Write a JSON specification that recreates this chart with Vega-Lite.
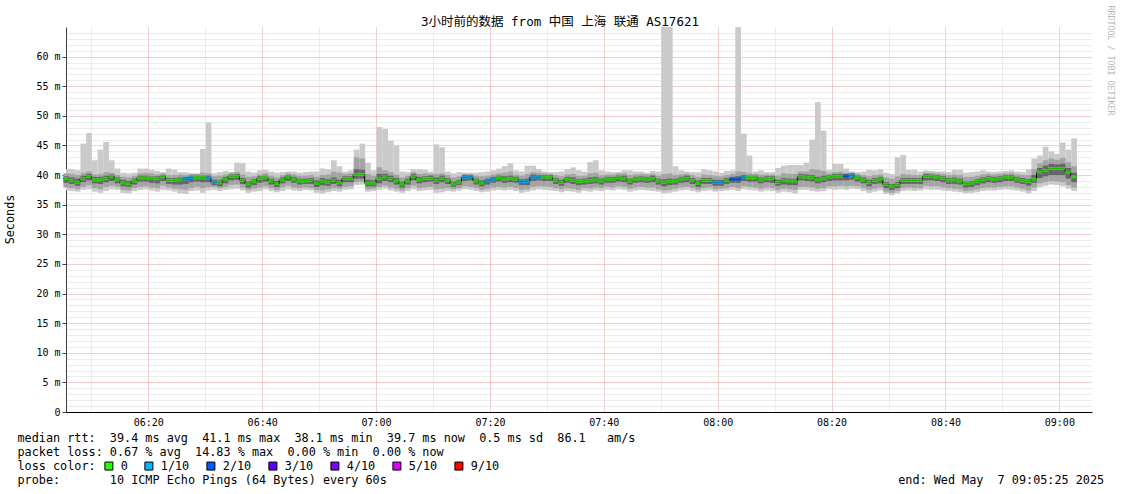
{
"$schema":"https://vega.github.io/schema/vega-lite/v6.json",
"width":1026,"height":385,
"autosize":{"type":"none"},
"padding":{"left":66,"top":27,"right":29,"bottom":82},
"background":"white",
"config":{"view":{"stroke":null}},
"title":{"text":"3小时前的数据 from 中国 上海 联通 AS17621","font":"DejaVu Sans Mono, Noto Sans CJK SC","fontSize":12.5,"fontWeight":"normal","color":"#000","anchor":"middle","dx":-19,"dy":26,"offset":3},
"data":{"values":[
{"t":"2025-05-07T06:05","m":39.4,"a":37.4,"b":41.0,"c":37.9,"d":40.3,"e":38.7,"f":39.8,"l":"0"},
{"t":"2025-05-07T06:06","m":39.1,"a":37.3,"b":41.0,"c":37.8,"d":40.2,"e":38.5,"f":39.6,"l":"0"},
{"t":"2025-05-07T06:07","m":38.8,"a":37.2,"b":40.8,"c":37.6,"d":40.0,"e":38.2,"f":39.4,"l":"0"},
{"t":"2025-05-07T06:08","m":39.4,"a":37.5,"b":45.3,"c":38.0,"d":40.4,"e":38.8,"f":39.9,"l":"0"},
{"t":"2025-05-07T06:09","m":39.8,"a":37.6,"b":47.1,"c":38.3,"d":40.6,"e":39.1,"f":40.2,"l":"0"},
{"t":"2025-05-07T06:10","m":39.2,"a":37.2,"b":42.5,"c":37.8,"d":40.1,"e":38.6,"f":39.7,"l":"0"},
{"t":"2025-05-07T06:11","m":39.2,"a":37.0,"b":44.3,"c":37.6,"d":40.2,"e":38.5,"f":39.7,"l":"0"},
{"t":"2025-05-07T06:12","m":39.4,"a":37.3,"b":45.6,"c":38.0,"d":40.5,"e":38.8,"f":39.9,"l":"0"},
{"t":"2025-05-07T06:13","m":39.8,"a":37.6,"b":42.5,"c":38.2,"d":40.4,"e":39.0,"f":40.1,"l":"0"},
{"t":"2025-05-07T06:14","m":39.2,"a":37.5,"b":41.1,"c":38.0,"d":40.0,"e":38.6,"f":39.6,"l":"0"},
{"t":"2025-05-07T06:15","m":38.7,"a":37.0,"b":40.4,"c":37.5,"d":39.7,"e":38.1,"f":39.2,"l":"0"},
{"t":"2025-05-07T06:16","m":38.5,"a":36.9,"b":40.3,"c":37.4,"d":39.6,"e":38.0,"f":39.0,"l":"0"},
{"t":"2025-05-07T06:17","m":39.0,"a":37.3,"b":40.4,"c":37.8,"d":39.9,"e":38.4,"f":39.4,"l":"0"},
{"t":"2025-05-07T06:18","m":39.5,"a":37.5,"b":41.1,"c":38.0,"d":40.3,"e":38.9,"f":39.9,"l":"0"},
{"t":"2025-05-07T06:19","m":39.5,"a":37.6,"b":41.1,"c":38.1,"d":40.4,"e":38.9,"f":39.9,"l":"0"},
{"t":"2025-05-07T06:20","m":39.5,"a":37.4,"b":40.9,"c":37.9,"d":40.3,"e":38.7,"f":39.8,"l":"0"},
{"t":"2025-05-07T06:21","m":39.4,"a":37.2,"b":40.7,"c":37.8,"d":40.1,"e":38.6,"f":39.8,"l":"0"},
{"t":"2025-05-07T06:22","m":39.7,"a":37.5,"b":40.5,"c":38.2,"d":40.3,"e":39.0,"f":40.0,"l":"0"},
{"t":"2025-05-07T06:23","m":39.1,"a":37.4,"b":41.1,"c":37.9,"d":40.0,"e":38.5,"f":39.5,"l":"0"},
{"t":"2025-05-07T06:24","m":39.1,"a":37.2,"b":40.9,"c":37.7,"d":40.0,"e":38.4,"f":39.5,"l":"0"},
{"t":"2025-05-07T06:25","m":39.2,"a":36.9,"b":40.5,"c":37.6,"d":40.1,"e":38.4,"f":39.6,"l":"0"},
{"t":"2025-05-07T06:26","m":39.3,"a":36.8,"b":40.5,"c":37.5,"d":40.0,"e":38.5,"f":39.7,"l":"1/10"},
{"t":"2025-05-07T06:27","m":39.6,"a":37.3,"b":40.3,"c":37.8,"d":40.2,"e":38.8,"f":39.9,"l":"1/10"},
{"t":"2025-05-07T06:28","m":39.55,"a":37.4,"b":40.3,"c":38.0,"d":40.2,"e":38.9,"f":39.9,"l":"0"},
{"t":"2025-05-07T06:29","m":39.55,"a":37.0,"b":44.4,"c":37.8,"d":40.4,"e":38.8,"f":39.9,"l":"0"},
{"t":"2025-05-07T06:30","m":39.5,"a":37.4,"b":48.9,"c":38.0,"d":40.3,"e":38.8,"f":39.9,"l":"1/10"},
{"t":"2025-05-07T06:31","m":38.8,"a":37.5,"b":40.3,"c":38.0,"d":39.8,"e":38.3,"f":39.2,"l":"1/10"},
{"t":"2025-05-07T06:32","m":38.7,"a":37.3,"b":40.5,"c":37.8,"d":39.9,"e":38.1,"f":39.1,"l":"0"},
{"t":"2025-05-07T06:33","m":39.3,"a":37.5,"b":40.7,"c":38.0,"d":40.1,"e":38.6,"f":39.7,"l":"0"},
{"t":"2025-05-07T06:34","m":39.8,"a":37.6,"b":40.5,"c":38.3,"d":40.4,"e":39.1,"f":40.1,"l":"0"},
{"t":"2025-05-07T06:35","m":39.8,"a":37.7,"b":42.1,"c":38.4,"d":40.5,"e":39.2,"f":40.2,"l":"0"},
{"t":"2025-05-07T06:36","m":39.1,"a":37.4,"b":42.0,"c":37.9,"d":40.1,"e":38.5,"f":39.5,"l":"0"},
{"t":"2025-05-07T06:37","m":38.5,"a":37.0,"b":40.6,"c":37.5,"d":39.7,"e":37.9,"f":38.9,"l":"0"},
{"t":"2025-05-07T06:38","m":38.9,"a":37.2,"b":40.4,"c":37.7,"d":39.8,"e":38.3,"f":39.3,"l":"0"},
{"t":"2025-05-07T06:39","m":39.4,"a":37.3,"b":40.8,"c":37.9,"d":40.1,"e":38.7,"f":39.8,"l":"0"},
{"t":"2025-05-07T06:40","m":39.55,"a":37.6,"b":40.9,"c":38.1,"d":40.3,"e":38.9,"f":39.9,"l":"0"},
{"t":"2025-05-07T06:41","m":39.0,"a":37.3,"b":40.6,"c":37.8,"d":39.9,"e":38.4,"f":39.4,"l":"0"},
{"t":"2025-05-07T06:42","m":38.55,"a":37.1,"b":40.4,"c":37.5,"d":39.6,"e":38.0,"f":39.0,"l":"0"},
{"t":"2025-05-07T06:43","m":39.2,"a":37.3,"b":40.5,"c":37.9,"d":40.0,"e":38.6,"f":39.6,"l":"0"},
{"t":"2025-05-07T06:44","m":39.7,"a":37.6,"b":40.6,"c":38.2,"d":40.3,"e":39.0,"f":40.0,"l":"0"},
{"t":"2025-05-07T06:45","m":39.3,"a":37.4,"b":40.6,"c":37.9,"d":40.1,"e":38.7,"f":39.7,"l":"0"},
{"t":"2025-05-07T06:46","m":39.0,"a":37.3,"b":40.4,"c":37.8,"d":39.9,"e":38.4,"f":39.4,"l":"0"},
{"t":"2025-05-07T06:47","m":39.0,"a":37.5,"b":40.5,"c":37.9,"d":39.9,"e":38.5,"f":39.4,"l":"0"},
{"t":"2025-05-07T06:48","m":39.1,"a":37.4,"b":40.6,"c":37.8,"d":40.0,"e":38.5,"f":39.5,"l":"0"},
{"t":"2025-05-07T06:49","m":38.65,"a":37.0,"b":40.6,"c":37.5,"d":39.7,"e":38.0,"f":39.1,"l":"0"},
{"t":"2025-05-07T06:50","m":39.0,"a":36.9,"b":41.1,"c":37.4,"d":40.0,"e":38.3,"f":39.5,"l":"0"},
{"t":"2025-05-07T06:51","m":38.8,"a":37.1,"b":41.0,"c":37.6,"d":40.1,"e":38.2,"f":39.3,"l":"0"},
{"t":"2025-05-07T06:52","m":39.1,"a":37.3,"b":42.5,"c":37.8,"d":40.6,"e":38.5,"f":39.6,"l":"0"},
{"t":"2025-05-07T06:53","m":38.7,"a":37.2,"b":41.5,"c":37.7,"d":40.4,"e":38.1,"f":39.2,"l":"0"},
{"t":"2025-05-07T06:54","m":39.4,"a":37.5,"b":40.6,"c":38.0,"d":40.2,"e":38.8,"f":39.8,"l":"0"},
{"t":"2025-05-07T06:55","m":39.4,"a":37.6,"b":40.8,"c":38.1,"d":40.3,"e":38.8,"f":39.8,"l":"0"},
{"t":"2025-05-07T06:56","m":40.1,"a":38.3,"b":44.3,"c":38.8,"d":43.0,"e":39.4,"f":41.0,"l":"0"},
{"t":"2025-05-07T06:57","m":40.1,"a":38.4,"b":45.3,"c":38.9,"d":42.8,"e":39.4,"f":40.9,"l":"0"},
{"t":"2025-05-07T06:58","m":38.65,"a":37.2,"b":42.1,"c":37.6,"d":40.2,"e":38.1,"f":39.2,"l":"0"},
{"t":"2025-05-07T06:59","m":38.65,"a":37.3,"b":40.8,"c":37.7,"d":39.9,"e":38.1,"f":39.1,"l":"0"},
{"t":"2025-05-07T07:00","m":39.4,"a":37.5,"b":48.1,"c":38.0,"d":41.3,"e":38.6,"f":40.2,"l":"0"},
{"t":"2025-05-07T07:01","m":39.7,"a":37.7,"b":47.8,"c":38.2,"d":40.8,"e":39.0,"f":40.2,"l":"0"},
{"t":"2025-05-07T07:02","m":39.4,"a":37.4,"b":45.8,"c":37.9,"d":40.5,"e":38.8,"f":39.9,"l":"0"},
{"t":"2025-05-07T07:03","m":39.0,"a":37.2,"b":45.0,"c":37.7,"d":40.1,"e":38.4,"f":39.5,"l":"0"},
{"t":"2025-05-07T07:04","m":38.5,"a":37.0,"b":40.6,"c":37.4,"d":39.6,"e":37.9,"f":38.9,"l":"0"},
{"t":"2025-05-07T07:05","m":39.0,"a":37.3,"b":40.5,"c":37.8,"d":39.9,"e":38.4,"f":39.4,"l":"0"},
{"t":"2025-05-07T07:06","m":39.8,"a":37.6,"b":41.0,"c":38.2,"d":40.5,"e":39.1,"f":40.2,"l":"0"},
{"t":"2025-05-07T07:07","m":39.2,"a":37.3,"b":41.0,"c":37.8,"d":40.2,"e":38.6,"f":39.7,"l":"0"},
{"t":"2025-05-07T07:08","m":39.44,"a":37.4,"b":40.9,"c":37.9,"d":40.3,"e":38.8,"f":39.8,"l":"0"},
{"t":"2025-05-07T07:09","m":39.44,"a":37.5,"b":40.6,"c":38.0,"d":40.2,"e":38.9,"f":39.9,"l":"0"},
{"t":"2025-05-07T07:10","m":39.1,"a":37.0,"b":45.2,"c":37.6,"d":40.2,"e":38.5,"f":39.6,"l":"0"},
{"t":"2025-05-07T07:11","m":39.44,"a":37.1,"b":44.7,"c":37.7,"d":40.3,"e":38.8,"f":39.9,"l":"0"},
{"t":"2025-05-07T07:12","m":39.1,"a":37.3,"b":40.6,"c":37.8,"d":40.0,"e":38.5,"f":39.5,"l":"0"},
{"t":"2025-05-07T07:13","m":38.5,"a":37.2,"b":40.3,"c":37.6,"d":39.6,"e":38.0,"f":38.9,"l":"0"},
{"t":"2025-05-07T07:14","m":38.8,"a":37.4,"b":40.5,"c":37.8,"d":39.8,"e":38.3,"f":39.2,"l":"0"},
{"t":"2025-05-07T07:15","m":39.6,"a":37.6,"b":40.4,"c":38.1,"d":40.2,"e":39.0,"f":40.0,"l":"1/10"},
{"t":"2025-05-07T07:16","m":39.7,"a":37.5,"b":40.4,"c":38.0,"d":40.2,"e":39.1,"f":40.0,"l":"1/10"},
{"t":"2025-05-07T07:17","m":39.0,"a":37.3,"b":40.4,"c":37.8,"d":39.9,"e":38.4,"f":39.4,"l":"0"},
{"t":"2025-05-07T07:18","m":38.65,"a":37.1,"b":40.5,"c":37.5,"d":39.8,"e":38.1,"f":39.1,"l":"0"},
{"t":"2025-05-07T07:19","m":39.0,"a":37.2,"b":40.6,"c":37.7,"d":39.9,"e":38.4,"f":39.4,"l":"1/10"},
{"t":"2025-05-07T07:20","m":39.3,"a":37.4,"b":40.8,"c":37.9,"d":40.1,"e":38.7,"f":39.7,"l":"1/10"},
{"t":"2025-05-07T07:21","m":39.55,"a":37.5,"b":41.1,"c":38.0,"d":40.3,"e":38.9,"f":39.9,"l":"0"},
{"t":"2025-05-07T07:22","m":39.3,"a":37.4,"b":41.5,"c":37.9,"d":40.4,"e":38.7,"f":39.8,"l":"0"},
{"t":"2025-05-07T07:23","m":39.44,"a":37.5,"b":42.0,"c":38.0,"d":40.6,"e":38.8,"f":39.9,"l":"0"},
{"t":"2025-05-07T07:24","m":39.3,"a":37.3,"b":40.8,"c":37.8,"d":40.1,"e":38.7,"f":39.7,"l":"0"},
{"t":"2025-05-07T07:25","m":38.9,"a":37.0,"b":40.6,"c":37.5,"d":39.9,"e":38.3,"f":39.3,"l":"1/10"},
{"t":"2025-05-07T07:26","m":38.9,"a":37.2,"b":41.6,"c":37.6,"d":40.2,"e":38.3,"f":39.4,"l":"1/10"},
{"t":"2025-05-07T07:27","m":39.66,"a":37.4,"b":41.6,"c":38.0,"d":40.5,"e":39.0,"f":40.1,"l":"1/10"},
{"t":"2025-05-07T07:28","m":39.66,"a":37.6,"b":41.0,"c":38.1,"d":40.4,"e":39.1,"f":40.0,"l":"1/10"},
{"t":"2025-05-07T07:29","m":39.66,"a":37.5,"b":40.6,"c":38.1,"d":40.3,"e":39.0,"f":40.0,"l":"0"},
{"t":"2025-05-07T07:30","m":39.66,"a":37.4,"b":40.5,"c":38.0,"d":40.2,"e":39.0,"f":40.0,"l":"0"},
{"t":"2025-05-07T07:31","m":39.1,"a":37.3,"b":40.5,"c":37.8,"d":40.0,"e":38.5,"f":39.5,"l":"0"},
{"t":"2025-05-07T07:32","m":38.76,"a":37.1,"b":40.6,"c":37.6,"d":39.8,"e":38.2,"f":39.2,"l":"0"},
{"t":"2025-05-07T07:33","m":39.3,"a":37.3,"b":41.0,"c":37.8,"d":40.1,"e":38.7,"f":39.7,"l":"0"},
{"t":"2025-05-07T07:34","m":39.1,"a":37.2,"b":41.3,"c":37.7,"d":40.2,"e":38.5,"f":39.6,"l":"0"},
{"t":"2025-05-07T07:35","m":38.9,"a":37.0,"b":40.8,"c":37.5,"d":39.9,"e":38.3,"f":39.3,"l":"0"},
{"t":"2025-05-07T07:36","m":39.0,"a":37.3,"b":40.6,"c":37.8,"d":39.9,"e":38.4,"f":39.4,"l":"0"},
{"t":"2025-05-07T07:37","m":39.1,"a":37.2,"b":42.2,"c":37.7,"d":40.3,"e":38.5,"f":39.6,"l":"0"},
{"t":"2025-05-07T07:38","m":39.2,"a":37.4,"b":42.5,"c":37.9,"d":40.4,"e":38.6,"f":39.7,"l":"0"},
{"t":"2025-05-07T07:39","m":39.0,"a":37.3,"b":40.8,"c":37.8,"d":40.0,"e":38.4,"f":39.4,"l":"0"},
{"t":"2025-05-07T07:40","m":39.3,"a":37.5,"b":40.6,"c":38.0,"d":40.1,"e":38.7,"f":39.7,"l":"0"},
{"t":"2025-05-07T07:41","m":39.3,"a":37.4,"b":40.5,"c":37.9,"d":40.1,"e":38.7,"f":39.7,"l":"0"},
{"t":"2025-05-07T07:42","m":39.55,"a":37.6,"b":40.5,"c":38.1,"d":40.3,"e":38.9,"f":39.9,"l":"0"},
{"t":"2025-05-07T07:43","m":39.44,"a":37.5,"b":40.8,"c":38.0,"d":40.3,"e":38.8,"f":39.9,"l":"0"},
{"t":"2025-05-07T07:44","m":39.0,"a":37.2,"b":40.8,"c":37.7,"d":40.0,"e":38.4,"f":39.4,"l":"0"},
{"t":"2025-05-07T07:45","m":39.3,"a":37.4,"b":40.6,"c":37.9,"d":40.1,"e":38.7,"f":39.7,"l":"0"},
{"t":"2025-05-07T07:46","m":39.44,"a":37.5,"b":40.6,"c":38.0,"d":40.2,"e":38.8,"f":39.8,"l":"0"},
{"t":"2025-05-07T07:47","m":39.3,"a":37.4,"b":40.4,"c":37.9,"d":40.1,"e":38.7,"f":39.7,"l":"0"},
{"t":"2025-05-07T07:48","m":39.44,"a":37.3,"b":40.7,"c":37.9,"d":40.2,"e":38.8,"f":39.9,"l":"0"},
{"t":"2025-05-07T07:49","m":39.0,"a":37.2,"b":40.6,"c":37.6,"d":39.9,"e":38.4,"f":39.4,"l":"0"},
{"t":"2025-05-07T07:50","m":38.76,"a":36.9,"b":70,"c":37.4,"d":40.2,"e":38.1,"f":39.3,"l":"0"},
{"t":"2025-05-07T07:51","m":38.9,"a":37.0,"b":70,"c":37.5,"d":40.3,"e":38.3,"f":39.4,"l":"0"},
{"t":"2025-05-07T07:52","m":39.0,"a":37.2,"b":41.5,"c":37.7,"d":40.0,"e":38.4,"f":39.4,"l":"0"},
{"t":"2025-05-07T07:53","m":39.3,"a":37.4,"b":40.8,"c":37.9,"d":40.1,"e":38.7,"f":39.7,"l":"0"},
{"t":"2025-05-07T07:54","m":39.44,"a":37.5,"b":40.6,"c":38.0,"d":40.2,"e":38.8,"f":39.9,"l":"0"},
{"t":"2025-05-07T07:55","m":39.1,"a":37.3,"b":40.5,"c":37.8,"d":40.0,"e":38.5,"f":39.5,"l":"0"},
{"t":"2025-05-07T07:56","m":38.65,"a":37.1,"b":40.5,"c":37.5,"d":39.7,"e":38.0,"f":39.1,"l":"0"},
{"t":"2025-05-07T07:57","m":39.1,"a":37.3,"b":41.0,"c":37.8,"d":40.1,"e":38.5,"f":39.5,"l":"0"},
{"t":"2025-05-07T07:58","m":39.1,"a":37.4,"b":40.8,"c":37.9,"d":40.0,"e":38.5,"f":39.5,"l":"0"},
{"t":"2025-05-07T07:59","m":38.8,"a":37.2,"b":40.6,"c":37.6,"d":39.9,"e":38.2,"f":39.2,"l":"1/10"},
{"t":"2025-05-07T08:00","m":38.8,"a":37.3,"b":40.4,"c":37.7,"d":39.8,"e":38.2,"f":39.2,"l":"1/10"},
{"t":"2025-05-07T08:01","m":39.1,"a":37.4,"b":40.7,"c":37.8,"d":40.0,"e":38.5,"f":39.5,"l":"0"},
{"t":"2025-05-07T08:02","m":39.3,"a":37.5,"b":40.8,"c":38.0,"d":40.2,"e":38.7,"f":39.7,"l":"2/10"},
{"t":"2025-05-07T08:03","m":39.3,"a":37.3,"b":70,"c":37.8,"d":40.6,"e":38.7,"f":39.8,"l":"2/10"},
{"t":"2025-05-07T08:04","m":39.66,"a":37.6,"b":47.0,"c":38.1,"d":40.5,"e":39.0,"f":40.0,"l":"1/10"},
{"t":"2025-05-07T08:05","m":39.55,"a":37.5,"b":43.3,"c":38.0,"d":40.3,"e":38.9,"f":39.9,"l":"0"},
{"t":"2025-05-07T08:06","m":39.55,"a":37.4,"b":40.6,"c":37.9,"d":40.2,"e":38.9,"f":39.9,"l":"0"},
{"t":"2025-05-07T08:07","m":39.2,"a":37.2,"b":40.8,"c":37.7,"d":40.1,"e":38.6,"f":39.6,"l":"0"},
{"t":"2025-05-07T08:08","m":39.4,"a":37.4,"b":40.5,"c":37.9,"d":40.1,"e":38.8,"f":39.8,"l":"0"},
{"t":"2025-05-07T08:09","m":39.4,"a":37.3,"b":40.5,"c":37.8,"d":40.1,"e":38.7,"f":39.8,"l":"0"},
{"t":"2025-05-07T08:10","m":38.76,"a":37.0,"b":41.2,"c":37.5,"d":39.9,"e":38.2,"f":39.2,"l":"0"},
{"t":"2025-05-07T08:11","m":39.1,"a":37.2,"b":41.6,"c":37.7,"d":40.3,"e":38.4,"f":39.5,"l":"0"},
{"t":"2025-05-07T08:12","m":39.0,"a":37.1,"b":41.7,"c":37.6,"d":40.2,"e":38.3,"f":39.4,"l":"0"},
{"t":"2025-05-07T08:13","m":39.0,"a":36.9,"b":41.7,"c":37.5,"d":40.2,"e":38.3,"f":39.4,"l":"0"},
{"t":"2025-05-07T08:14","m":39.8,"a":37.5,"b":41.7,"c":38.0,"d":40.6,"e":39.1,"f":40.2,"l":"0"},
{"t":"2025-05-07T08:15","m":39.66,"a":37.5,"b":42.1,"c":38.0,"d":40.6,"e":39.0,"f":40.1,"l":"0"},
{"t":"2025-05-07T08:16","m":39.55,"a":37.3,"b":46.0,"c":37.9,"d":41.0,"e":38.9,"f":40.0,"l":"0"},
{"t":"2025-05-07T08:17","m":39.2,"a":37.2,"b":52.3,"c":37.7,"d":40.9,"e":38.6,"f":39.7,"l":"0"},
{"t":"2025-05-07T08:18","m":39.4,"a":37.3,"b":47.5,"c":37.8,"d":40.7,"e":38.8,"f":39.9,"l":"0"},
{"t":"2025-05-07T08:19","m":39.66,"a":37.6,"b":40.9,"c":38.1,"d":40.3,"e":39.0,"f":40.0,"l":"0"},
{"t":"2025-05-07T08:20","m":39.8,"a":37.5,"b":41.9,"c":38.1,"d":40.5,"e":39.1,"f":40.2,"l":"0"},
{"t":"2025-05-07T08:21","m":39.8,"a":37.6,"b":41.9,"c":38.2,"d":40.6,"e":39.1,"f":40.2,"l":"0"},
{"t":"2025-05-07T08:22","m":39.8,"a":37.5,"b":41.1,"c":38.1,"d":40.4,"e":39.1,"f":40.2,"l":"2/10"},
{"t":"2025-05-07T08:23","m":39.9,"a":37.7,"b":40.6,"c":38.2,"d":40.4,"e":39.2,"f":40.3,"l":"1/10"},
{"t":"2025-05-07T08:24","m":39.55,"a":37.6,"b":40.5,"c":38.1,"d":40.2,"e":38.9,"f":39.9,"l":"0"},
{"t":"2025-05-07T08:25","m":39.2,"a":37.3,"b":40.6,"c":37.8,"d":40.0,"e":38.6,"f":39.6,"l":"0"},
{"t":"2025-05-07T08:26","m":38.76,"a":37.0,"b":40.9,"c":37.5,"d":39.8,"e":38.1,"f":39.2,"l":"0"},
{"t":"2025-05-07T08:27","m":39.1,"a":37.2,"b":40.8,"c":37.7,"d":40.0,"e":38.5,"f":39.5,"l":"0"},
{"t":"2025-05-07T08:28","m":39.3,"a":37.4,"b":41.0,"c":37.9,"d":40.1,"e":38.6,"f":39.7,"l":"0"},
{"t":"2025-05-07T08:29","m":38.4,"a":36.8,"b":40.4,"c":37.2,"d":39.6,"e":37.8,"f":38.8,"l":"0"},
{"t":"2025-05-07T08:30","m":38.1,"a":36.6,"b":40.2,"c":37.0,"d":39.4,"e":37.5,"f":38.5,"l":"0"},
{"t":"2025-05-07T08:31","m":38.4,"a":36.9,"b":43.0,"c":37.3,"d":39.8,"e":37.8,"f":38.8,"l":"0"},
{"t":"2025-05-07T08:32","m":39.1,"a":37.3,"b":43.4,"c":37.8,"d":40.2,"e":38.5,"f":39.5,"l":"0"},
{"t":"2025-05-07T08:33","m":39.1,"a":37.4,"b":40.9,"c":37.9,"d":40.1,"e":38.5,"f":39.5,"l":"0"},
{"t":"2025-05-07T08:34","m":39.1,"a":37.3,"b":40.9,"c":37.8,"d":40.0,"e":38.5,"f":39.5,"l":"0"},
{"t":"2025-05-07T08:35","m":39.1,"a":37.4,"b":40.6,"c":37.8,"d":40.0,"e":38.5,"f":39.5,"l":"0"},
{"t":"2025-05-07T08:36","m":39.8,"a":37.6,"b":40.8,"c":38.2,"d":40.4,"e":39.1,"f":40.2,"l":"0"},
{"t":"2025-05-07T08:37","m":39.8,"a":37.5,"b":40.7,"c":38.1,"d":40.4,"e":39.1,"f":40.1,"l":"0"},
{"t":"2025-05-07T08:38","m":39.66,"a":37.5,"b":40.6,"c":38.1,"d":40.3,"e":39.0,"f":40.0,"l":"0"},
{"t":"2025-05-07T08:39","m":39.44,"a":37.4,"b":40.6,"c":37.9,"d":40.2,"e":38.8,"f":39.8,"l":"0"},
{"t":"2025-05-07T08:40","m":39.1,"a":37.3,"b":40.5,"c":37.8,"d":40.0,"e":38.5,"f":39.5,"l":"0"},
{"t":"2025-05-07T08:41","m":39.2,"a":37.2,"b":40.9,"c":37.7,"d":40.1,"e":38.5,"f":39.6,"l":"0"},
{"t":"2025-05-07T08:42","m":39.0,"a":37.1,"b":40.9,"c":37.6,"d":40.0,"e":38.4,"f":39.4,"l":"0"},
{"t":"2025-05-07T08:43","m":38.54,"a":36.9,"b":40.4,"c":37.3,"d":39.7,"e":37.9,"f":38.9,"l":"0"},
{"t":"2025-05-07T08:44","m":38.65,"a":37.0,"b":40.5,"c":37.4,"d":39.7,"e":38.0,"f":39.0,"l":"0"},
{"t":"2025-05-07T08:45","m":38.9,"a":37.1,"b":40.6,"c":37.6,"d":39.9,"e":38.3,"f":39.3,"l":"0"},
{"t":"2025-05-07T08:46","m":39.2,"a":37.3,"b":40.8,"c":37.8,"d":40.1,"e":38.6,"f":39.6,"l":"0"},
{"t":"2025-05-07T08:47","m":39.44,"a":37.4,"b":40.6,"c":37.9,"d":40.2,"e":38.8,"f":39.8,"l":"0"},
{"t":"2025-05-07T08:48","m":39.3,"a":37.4,"b":40.5,"c":37.9,"d":40.1,"e":38.7,"f":39.7,"l":"0"},
{"t":"2025-05-07T08:49","m":39.44,"a":37.5,"b":40.6,"c":38.0,"d":40.2,"e":38.8,"f":39.8,"l":"0"},
{"t":"2025-05-07T08:50","m":39.66,"a":37.6,"b":40.7,"c":38.1,"d":40.3,"e":39.0,"f":40.0,"l":"0"},
{"t":"2025-05-07T08:51","m":39.66,"a":37.5,"b":40.8,"c":38.1,"d":40.4,"e":39.0,"f":40.0,"l":"0"},
{"t":"2025-05-07T08:52","m":39.3,"a":37.4,"b":40.6,"c":37.9,"d":40.1,"e":38.7,"f":39.7,"l":"0"},
{"t":"2025-05-07T08:53","m":39.1,"a":37.2,"b":40.5,"c":37.7,"d":40.0,"e":38.5,"f":39.5,"l":"0"},
{"t":"2025-05-07T08:54","m":38.9,"a":36.9,"b":41.0,"c":37.4,"d":40.0,"e":38.2,"f":39.3,"l":"0"},
{"t":"2025-05-07T08:55","m":39.3,"a":37.3,"b":42.8,"c":37.9,"d":41.0,"e":38.7,"f":40.0,"l":"0"},
{"t":"2025-05-07T08:56","m":40.5,"a":38.0,"b":43.3,"c":38.6,"d":42.0,"e":39.5,"f":41.2,"l":"0"},
{"t":"2025-05-07T08:57","m":40.8,"a":38.2,"b":44.8,"c":38.8,"d":42.5,"e":39.8,"f":41.6,"l":"0"},
{"t":"2025-05-07T08:58","m":41.1,"a":38.4,"b":44.0,"c":39.0,"d":42.8,"e":40.0,"f":41.9,"l":"0"},
{"t":"2025-05-07T08:59","m":41.1,"a":38.3,"b":43.6,"c":38.9,"d":42.6,"e":40.0,"f":41.8,"l":"0"},
{"t":"2025-05-07T09:00","m":41.1,"a":38.1,"b":45.5,"c":38.8,"d":42.9,"e":40.0,"f":41.9,"l":"0"},
{"t":"2025-05-07T09:01","m":40.5,"a":37.7,"b":44.3,"c":38.3,"d":42.2,"e":39.4,"f":41.2,"l":"0"},
{"t":"2025-05-07T09:02","m":39.7,"a":37.3,"b":46.2,"c":37.9,"d":41.5,"e":38.8,"f":40.4,"l":"0"}
]},
"resolve":{"axis":{"y":"independent"}},
"layer":[
{"mark":{"type":"bar","color":"#cacaca","clip":true,"binSpacing":0},
 "encoding":{
  "x":{"field":"t","type":"temporal","timeUnit":"yearmonthdatehoursminutes",
       "scale":{"domain":[{"year":2025,"month":5,"date":7,"hours":6,"minutes":5,"seconds":33},{"year":2025,"month":5,"date":7,"hours":9,"minutes":5,"seconds":44}]},
       "axis":{"values":[
         {"year":2025,"month":5,"date":7,"hours":6,"minutes":10},{"year":2025,"month":5,"date":7,"hours":6,"minutes":15},{"year":2025,"month":5,"date":7,"hours":6,"minutes":20},{"year":2025,"month":5,"date":7,"hours":6,"minutes":25},
         {"year":2025,"month":5,"date":7,"hours":6,"minutes":30},{"year":2025,"month":5,"date":7,"hours":6,"minutes":35},{"year":2025,"month":5,"date":7,"hours":6,"minutes":40},{"year":2025,"month":5,"date":7,"hours":6,"minutes":45},
         {"year":2025,"month":5,"date":7,"hours":6,"minutes":50},{"year":2025,"month":5,"date":7,"hours":6,"minutes":55},{"year":2025,"month":5,"date":7,"hours":7,"minutes":0},{"year":2025,"month":5,"date":7,"hours":7,"minutes":5},
         {"year":2025,"month":5,"date":7,"hours":7,"minutes":10},{"year":2025,"month":5,"date":7,"hours":7,"minutes":15},{"year":2025,"month":5,"date":7,"hours":7,"minutes":20},{"year":2025,"month":5,"date":7,"hours":7,"minutes":25},
         {"year":2025,"month":5,"date":7,"hours":7,"minutes":30},{"year":2025,"month":5,"date":7,"hours":7,"minutes":35},{"year":2025,"month":5,"date":7,"hours":7,"minutes":40},{"year":2025,"month":5,"date":7,"hours":7,"minutes":45},
         {"year":2025,"month":5,"date":7,"hours":7,"minutes":50},{"year":2025,"month":5,"date":7,"hours":7,"minutes":55},{"year":2025,"month":5,"date":7,"hours":8,"minutes":0},{"year":2025,"month":5,"date":7,"hours":8,"minutes":5},
         {"year":2025,"month":5,"date":7,"hours":8,"minutes":10},{"year":2025,"month":5,"date":7,"hours":8,"minutes":15},{"year":2025,"month":5,"date":7,"hours":8,"minutes":20},{"year":2025,"month":5,"date":7,"hours":8,"minutes":25},
         {"year":2025,"month":5,"date":7,"hours":8,"minutes":30},{"year":2025,"month":5,"date":7,"hours":8,"minutes":35},{"year":2025,"month":5,"date":7,"hours":8,"minutes":40},{"year":2025,"month":5,"date":7,"hours":8,"minutes":45},
         {"year":2025,"month":5,"date":7,"hours":8,"minutes":50},{"year":2025,"month":5,"date":7,"hours":8,"minutes":55},{"year":2025,"month":5,"date":7,"hours":9,"minutes":0},{"year":2025,"month":5,"date":7,"hours":9,"minutes":5}],
               "labelExpr":"minutes(datum.value) % 20 === 0 ? timeFormat(datum.value, '%H:%M') : ''","labelOverlap":false,
               "grid":true,"gridColor":{"condition":{"test":"minutes(datum.value) % 20 === 0","value":"#e89a9a"},"value":"#d8d8d8"},"gridDash":[1,1],
               "domainColor":"#000000","ticks":false,"labelFont":"DejaVu Sans Mono","labelFontSize":10,"labelColor":"#000000","labelPadding":5,"labelFlush":false,
               "title":["median rtt:\u00a0\u00a039.4 ms avg\u00a0\u00a041.1 ms max\u00a0\u00a038.1 ms min\u00a0\u00a039.7 ms now\u00a0\u00a00.5 ms sd\u00a0\u00a086.1\u00a0\u00a0\u00a0am/s","packet loss: 0.67 % avg\u00a0\u00a014.83 % max\u00a0\u00a00.00 % min\u00a0\u00a00.00 % now","loss color:","probe:\u00a0\u00a0\u00a0\u00a0\u00a0\u00a0\u00a010 ICMP Echo Pings (64 Bytes) every 60s\u00a0\u00a0\u00a0\u00a0\u00a0\u00a0\u00a0\u00a0\u00a0\u00a0\u00a0\u00a0\u00a0\u00a0\u00a0\u00a0\u00a0\u00a0\u00a0\u00a0\u00a0\u00a0\u00a0\u00a0\u00a0\u00a0\u00a0\u00a0\u00a0\u00a0\u00a0\u00a0\u00a0\u00a0\u00a0\u00a0\u00a0\u00a0\u00a0\u00a0\u00a0\u00a0\u00a0\u00a0\u00a0\u00a0\u00a0\u00a0\u00a0\u00a0\u00a0\u00a0\u00a0\u00a0\u00a0\u00a0\u00a0\u00a0\u00a0\u00a0\u00a0\u00a0\u00a0\u00a0\u00a0\u00a0\u00a0\u00a0\u00a0\u00a0\u00a0\u00a0end: Wed May\u00a0\u00a07 09:05:25 2025"],
               "titleFont":"DejaVu Sans Mono","titleFontSize":11.8,"titleFontWeight":"normal","titleColor":"#000000","titleAnchor":"start","titleAlign":"left","titleX":-49,"titleY":29,"titleBaseline":"alphabetic","titleLineHeight":14}},
  "y":{"field":"a","type":"quantitative","scale":{"domain":[0,65],"nice":false,"zero":true},
       "axis":{"orient":"left","values":[0,1,2,3,4,5,6,7,8,9,10,11,12,13,14,15,16,17,18,19,20,21,22,23,24,25,26,27,28,29,30,31,32,33,34,35,36,37,38,39,40,41,42,43,44,45,46,47,48,49,50,51,52,53,54,55,56,57,58,59,60,61,62,63,64],
               "labelExpr":"datum.value % 5 === 0 ? (datum.value === 0 ? '0' : datum.value + ' m') : ''","labelOverlap":false,
               "grid":true,"gridColor":{"condition":{"test":"datum.value % 5 === 0","value":"#e89a9a"},"value":"#d8d8d8"},"gridDash":[1,1],
               "tickOpacity":{"condition":{"test":"datum.value % 5 === 0","value":1},"value":0},
               "domainColor":"#404040","tickColor":"#404040","tickSize":4,"labelFont":"DejaVu Sans Mono","labelFontSize":10,"labelColor":"#000000","labelPadding":2,
               "title":"Seconds","titleFont":"DejaVu Sans Mono","titleFontSize":11.8,"titleFontWeight":"normal","titleColor":"#000000","titleX":-51,"titleY":192}},
  "y2":{"field":"b"}}},
{"mark":{"type":"bar","color":"#a4a4a4","binSpacing":0},
 "encoding":{
  "x":{"field":"t","type":"temporal","timeUnit":"yearmonthdatehoursminutes"},
  "y":{"field":"c","type":"quantitative","axis":null},
  "y2":{"field":"d"}}},
{"mark":{"type":"bar","color":"#666666","binSpacing":0},
 "encoding":{
  "x":{"field":"t","type":"temporal","timeUnit":"yearmonthdatehoursminutes"},
  "y":{"field":"e","type":"quantitative","axis":null},
  "y2":{"field":"f"}}},
{"mark":{"type":"line","color":"#000000","strokeWidth":1,"interpolate":"step-after"},
 "encoding":{
  "x":{"field":"t","type":"temporal","timeUnit":"yearmonthdatehoursminutes","bandPosition":0},
  "y":{"field":"m","type":"quantitative",
       "axis":{"orient":"right","labels":false,"ticks":false,"domain":false,"grid":false,"title":"RRDTOOL / TOBI OETIKER","titleColor":"#b8b8b8","titleFont":"DejaVu Sans Mono","titleFontSize":8.3,"titleFontWeight":"normal","titleAngle":90,"titleX":17,"titleY":-22,"titleAlign":"left","titleBaseline":"middle"}}}},
{"mark":{"type":"tick","orient":"horizontal","thickness":3,"size":6},
 "encoding":{
  "x":{"field":"t","type":"temporal","timeUnit":"yearmonthdatehoursminutes","bandPosition":0.5},
  "y":{"field":"m","type":"quantitative","axis":null},
  "color":{"field":"l","type":"nominal",
     "scale":{"domain":["0","1/10","2/10","3/10","4/10","5/10","9/10"],"range":["#26ff00","#00b8ff","#0059ff","#5e00ff","#7e00ff","#dd00ff","#ff0000"]},
     "legend":{"title":null,"orient":"none","legendX":37,"legendY":433,"direction":"horizontal","symbolType":"square","symbolSize":64,"symbolStrokeColor":"#000000","symbolStrokeWidth":1,"symbolOpacity":1,
       "labelFont":"DejaVu Sans Mono","labelFontSize":11.8,"labelColor":"#000000","labelOffset":6,"columnPadding":14}}}}
]
}
